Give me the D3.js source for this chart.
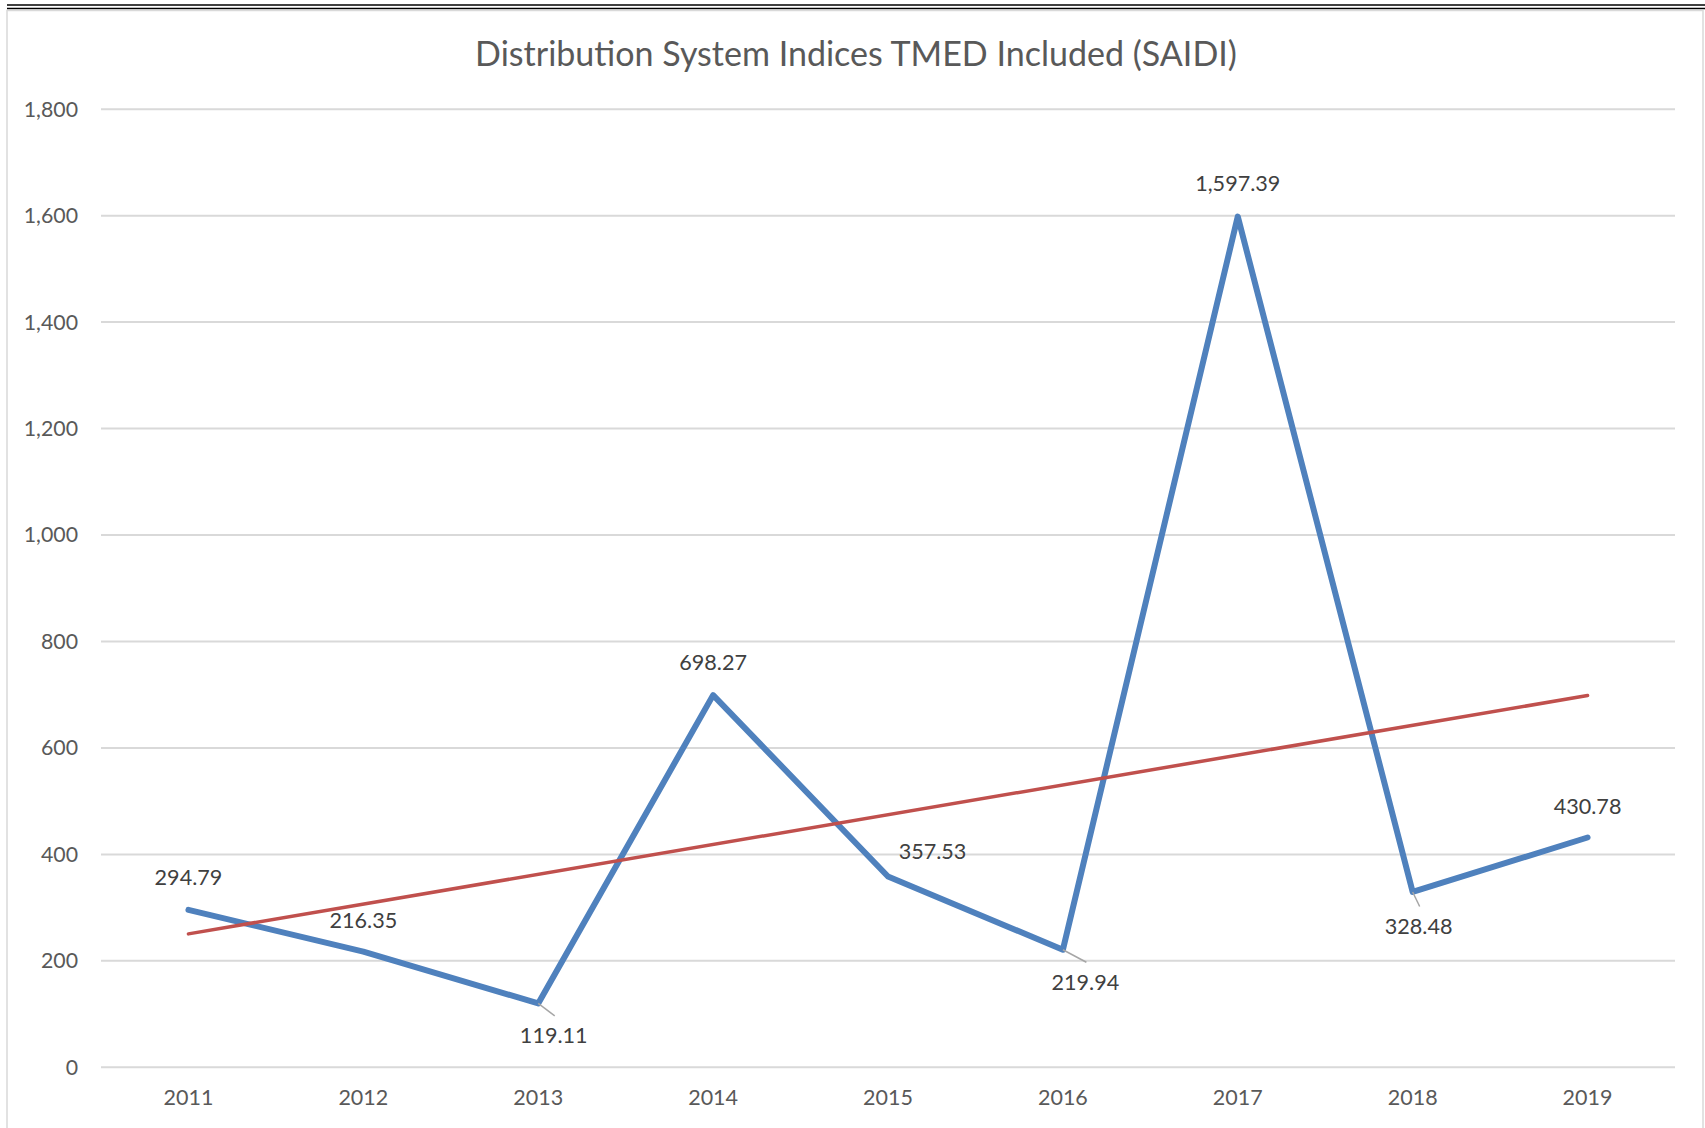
<!DOCTYPE html>
<html>
<head>
<meta charset="utf-8">
<script src="https://cdn.jsdelivr.net/npm/d3@7/dist/d3.min.js"></script>
<style>
  html, body { margin: 0; padding: 0; background: #fff; }
  svg { display: block; }
</style>
</head>
<body>
<svg id="chart" width="1705" height="1128"></svg>
<script>
// ---- data ----
const chartTitle = "Distribution System Indices TMED Included (SAIDI)";
const years = ["2011", "2012", "2013", "2014", "2015", "2016", "2017", "2018", "2019"];
const saidi = [294.79, 216.35, 119.11, 698.27, 357.53, 219.94, 1597.39, 328.48, 430.78];
const trendYears = ["2011", "2019"];
const trendValues = [249.7, 697.5];
const yTicks = [0, 200, 400, 600, 800, 1000, 1200, 1400, 1600, 1800];

// ---- label placement (layout config, not data) ----
const labelPlacement = [
  { dx: 0, dy: -32.5, leader: false },
  { dx: 0, dy: -31.6, leader: false },
  { dx: 15.5, dy: 32.5, leader: true },
  { dx: 0, dy: -33, leader: false },
  { dx: 44.5, dy: -25.5, leader: false },
  { dx: 22.5, dy: 32.5, leader: true },
  { dx: 0, dy: -32.7, leader: false },
  { dx: 6, dy: 34.5, leader: true },
  { dx: 0, dy: -31.5, leader: false }
];

const svg = d3.select("#chart");
const W = 1705, H = 1128;
const plot = { left: 101, right: 1675, top: 108.7, bottom: 1066.8 };
const font = "Lato, 'Open Sans', 'DejaVu Sans', sans-serif";

svg.append("rect").attr("width", W).attr("height", H).attr("fill", "#fff");

// double rule at top
[5, 8.5].forEach(yy => {
  svg.append("line").attr("x1", 7).attr("x2", W).attr("y1", yy).attr("y2", yy)
    .attr("stroke", "#000").attr("stroke-width", 1.4);
});
// chart border
svg.append("rect").attr("x", 7).attr("y", 10.5).attr("width", 1696).attr("height", 1140)
  .attr("fill", "none").attr("stroke", "#D9D9D9").attr("stroke-width", 1.5);

const x = d3.scaleBand().domain(years).range([plot.left, plot.right]).padding(0);
const cx = d => x(d) + x.bandwidth() / 2;
const y = d3.scaleLinear().domain([0, 1800]).range([plot.bottom, plot.top]);

// gridlines
const grid = svg.append("g").attr("transform", `translate(${plot.left},0)`)
  .call(d3.axisLeft(y).tickValues(yTicks).tickSize(-(plot.right - plot.left)).tickFormat(""));
grid.select(".domain").remove();
grid.selectAll(".tick line").attr("stroke", "#D9D9D9").attr("stroke-width", 2);

// y labels
const yAxis = svg.append("g").attr("transform", `translate(78,0)`)
  .call(d3.axisLeft(y).tickValues(yTicks).tickSize(0).tickPadding(0).tickFormat(d3.format(",")));
yAxis.select(".domain").remove();
yAxis.selectAll("text").attr("fill", "#595959").style("font-family", font).style("font-size", "21.3px")
  .attr("dy", "0.35em");

// x labels
const xAxis = svg.append("g").attr("transform", `translate(0,${plot.bottom})`)
  .call(d3.axisBottom(x).tickSize(0).tickPadding(0));
xAxis.select(".domain").remove();
xAxis.selectAll("text").attr("fill", "#595959").style("font-family", font).style("font-size", "21.5px")
  .attr("y", 31).attr("dy", "0.35em");

// title
const title = svg.append("text").attr("x", 856).attr("y", 54).attr("text-anchor", "middle")
  .attr("dy", "0.35em").attr("fill", "#595959").style("font-family", font).style("font-size", "30px")
  .text(chartTitle);
const tw = title.node().getComputedTextLength();
title.style("font-size", (30 * 762 / tw).toFixed(2) + "px");

// series line
const pts = years.map((yr, i) => ({ yr, v: saidi[i], p: labelPlacement[i] }));
svg.append("path").datum(pts)
  .attr("d", d3.line().x(d => cx(d.yr)).y(d => y(d.v)))
  .attr("fill", "none").attr("stroke", "#4F81BD").attr("stroke-width", 6)
  .attr("stroke-linejoin", "round").attr("stroke-linecap", "round");

// trend line
const tpts = trendYears.map((yr, i) => ({ yr, v: trendValues[i] }));
svg.append("path").datum(tpts)
  .attr("d", d3.line().x(d => cx(d.yr)).y(d => y(d.v)))
  .attr("fill", "none").attr("stroke", "#C0504D").attr("stroke-width", 3.5)
  .attr("stroke-linecap", "round");

// leader lines
svg.append("g").selectAll("line").data(pts.filter(d => d.p.leader)).join("line")
  .attr("x1", d => cx(d.yr)).attr("y1", d => y(d.v))
  .attr("x2", d => cx(d.yr) + d.p.dx + 1).attr("y2", d => y(d.v) + d.p.dy - 20)
  .attr("stroke", "#A6A6A6").attr("stroke-width", 1.5);

// data labels
svg.append("g").selectAll("text").data(pts).join("text")
  .attr("x", d => cx(d.yr) + d.p.dx).attr("y", d => y(d.v) + d.p.dy)
  .attr("dy", "0.35em").attr("text-anchor", "middle")
  .attr("fill", "#404040").style("font-family", font).style("font-size", "21.6px")
  .text(d => d3.format(",.2f")(d.v));
</script>
</body>
</html>
